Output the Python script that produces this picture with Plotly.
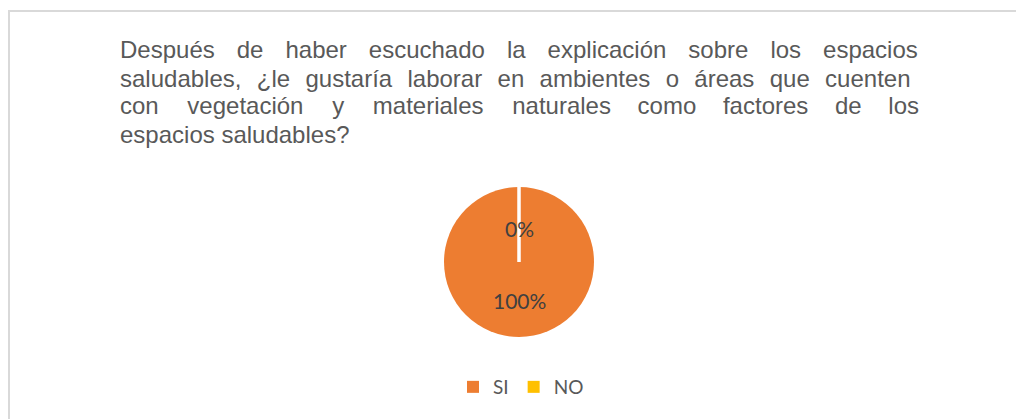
import math
import plotly.graph_objects as go

# chart data
labels = ["SI", "NO"]
values = [100, 0]
colors = ["#ED7D31", "#FFC000"]

title_lines = [
    "Después de haber escuchado la explicación sobre los espacios",
    "saludables, ¿le gustaría laborar en ambientes o áreas que cuenten",
    "con vegetación y materiales naturales como factores de los",
    "espacios saludables?",
]
# word gaps per line (the original text is justified):
# (spaces per gap, how many gaps get an extra hair space)
NBSP, HAIR = "\u00a0", "\u200a"
title_gaps = [(3, 8), (2, 10), (4, 4), (1, 0)]

# the page body has an 8px margin, so the figure is 8px smaller than the window
PAGE_W, PAGE_H, BODY = 1024, 419, 8
W, H = PAGE_W - BODY, PAGE_H - BODY


def px_x(x):
    return (x - BODY) / W


def px_y(y):
    return 1 - (y - BODY) / H


def justify(line, n_space, n_hair):
    words = line.split(" ")
    out = words[0]
    for k, w in enumerate(words[1:]):
        out += NBSP * n_space + (HAIR if k < n_hair else "") + w
    return out


# pie position in page pixels: centre and radius
cx, cy, r = 519, 262, 75
dom_x = [px_x(cx - r), px_x(cx + r)]
dom_y = [px_y(cy + r), px_y(cy - r)]

fig = go.Figure(
    go.Pie(
        labels=labels,
        values=values,
        sort=False,
        direction="clockwise",
        rotation=0,
        textinfo="none",
        hoverinfo="label+percent",
        marker=dict(colors=colors, line=dict(color="#FFFFFF", width=0)),
        domain=dict(x=dom_x, y=dom_y),
        showlegend=True,
    )
)

annotations = []
for i, line in enumerate(title_lines):
    annotations.append(
        dict(
            text=justify(line, *title_gaps[i]),
            x=px_x(118),
            y=px_y(50 + 28 * i),
            xref="paper",
            yref="paper",
            xanchor="left",
            yanchor="middle",
            showarrow=False,
            font=dict(family="Liberation Sans, Arial, sans-serif", size=24, color="#595959"),
        )
    )

# slice labels (percent of total)
total = sum(values)
pct = [f"{round(100 * v / total)}%" for v in values]
label_y = [300, 228]
for t, y in zip(pct, label_y):
    annotations.append(
        dict(
            text=t,
            x=px_x(cx),
            y=px_y(y),
            xref="paper",
            yref="paper",
            xanchor="center",
            yanchor="middle",
            showarrow=False,
            font=dict(family="Lato, Open Sans, sans-serif", size=21, color="#404040"),
        )
    )

# white boundary of the zero slice (Excel draws slice borders in white)
shapes = []
cum = 0
for v in values:
    cum += v
    if v == 0:
        ang = 2 * math.pi * (cum - v) / total
        shapes.append(
            dict(
                type="line",
                xref="paper",
                yref="paper",
                x0=px_x(cx),
                y0=px_y(cy),
                x1=px_x(cx + r * math.sin(ang)),
                y1=px_y(cy - r * math.cos(ang)),
                line=dict(color="#FFFFFF", width=3.5),
            )
        )

# chart frame
shapes.append(
    dict(
        type="rect",
        xref="paper",
        yref="paper",
        x0=px_x(9),
        y0=-0.1,
        x1=1.1,
        y1=px_y(11),
        line=dict(color="#D9D9D9", width=2),
        layer="below",
    )
)

fig.update_layout(
    width=W,
    height=H,
    margin=dict(l=0, r=0, t=0, b=0),
    paper_bgcolor="#FFFFFF",
    plot_bgcolor="#FFFFFF",
    annotations=annotations,
    shapes=shapes,
    legend=dict(
        orientation="h",
        x=px_x(521),
        xanchor="center",
        y=px_y(387),
        yanchor="middle",
        font=dict(family="Lato, Open Sans, sans-serif", size=19, color="#595959"),
        itemwidth=30,
        tracegroupgap=0,
    ),
)

fig.write_html("out.html")
